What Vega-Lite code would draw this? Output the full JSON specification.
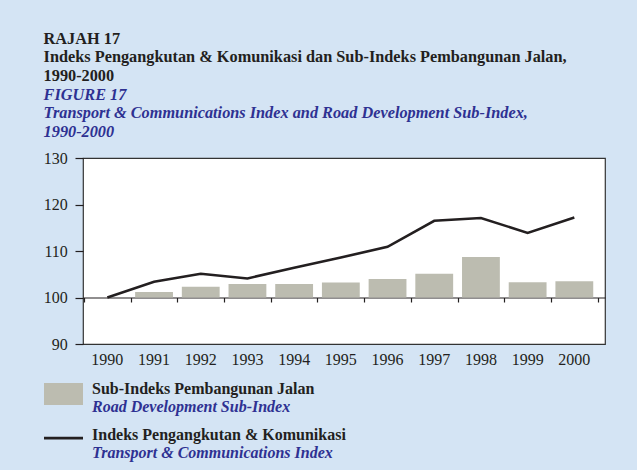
{
  "$schema": "https://vega.github.io/schema/vega-lite/v6.json",
  "background": "#d4e4f4",
  "padding": {"left": 38, "top": 30, "right": 32, "bottom": 7},
  "autosize": {"type": "pad"},
  "title": {
    "text": ["RAJAH 17", "Indeks Pengangkutan & Komunikasi dan Sub-Indeks Pembangunan Jalan,", "1990-2000"],
    "subtitle": ["FIGURE 17", "Transport & Communications Index and Road Development Sub-Index,", "1990-2000"],
    "anchor": "start",
    "frame": "bounds",
    "dx": 5,
    "font": "Liberation Serif",
    "fontSize": 16.3,
    "fontWeight": "bold",
    "color": "#231f20",
    "lineHeight": 18.7,
    "subtitleFont": "Liberation Serif",
    "subtitleFontSize": 16.3,
    "subtitleFontWeight": "bold",
    "subtitleFontStyle": "italic",
    "subtitleColor": "#2e3192",
    "subtitleLineHeight": 18.7,
    "subtitlePadding": 2.3,
    "offset": 9
  },
  "datasets": {
    "main": [
      {"year": "1990", "road": 100.0, "transport": 100.0},
      {"year": "1991", "road": 101.2, "transport": 103.4},
      {"year": "1992", "road": 102.3, "transport": 105.1},
      {"year": "1993", "road": 102.9, "transport": 104.1},
      {"year": "1994", "road": 102.9, "transport": 106.4},
      {"year": "1995", "road": 103.2, "transport": 108.6},
      {"year": "1996", "road": 104.0, "transport": 110.9},
      {"year": "1997", "road": 105.1, "transport": 116.5},
      {"year": "1998", "road": 108.7, "transport": 117.1},
      {"year": "1999", "road": 103.3, "transport": 113.9},
      {"year": "2000", "road": 103.5, "transport": 117.2}
    ],
    "legend": [
      {"kind": "bar", "my": "Sub-Indeks Pembangunan Jalan", "en": "Road Development Sub-Index"},
      {"kind": "line", "my": "Indeks Pengangkutan & Komunikasi", "en": "Transport & Communications Index"}
    ]
  },
  "spacing": 2,
  "vconcat": [
    {
      "width": 522,
      "height": 186,
      "view": {"fill": "white", "stroke": "#333333", "strokeWidth": 1.2},
      "data": {"name": "main"},
      "layer": [
        {
          "mark": {"type": "bar", "fill": "#bcbcb0", "width": {"band": 0.81}},
          "encoding": {
            "x": {
              "field": "year", "type": "ordinal",
              "scale": {"paddingInner": 0, "paddingOuter": 0.089, "align": 0.12},
              "axis": {"orient": "bottom", "title": null, "ticks": false, "tickSize": 0, "domain": false, "labelPadding": 7.5, "labelAngle": 0, "labelFont": "Liberation Serif", "labelFontSize": 16, "labelColor": "#231f20"}
            },
            "y": {
              "field": "road", "type": "quantitative",
              "scale": {"domain": [90, 130], "nice": false, "zero": false},
              "axis": {"title": null, "values": [90, 100, 110, 120, 130], "tickSize": 8, "tickWidth": 1.2, "tickColor": "#231f20", "labelPadding": 7.7, "domain": false, "grid": false, "labelFont": "Liberation Serif", "labelFontSize": 16, "labelColor": "#231f20"}
            },
            "y2": {"datum": 100}
          }
        },
        {
          "mark": {"type": "line", "stroke": "#231f20", "strokeWidth": 2.6},
          "encoding": {
            "x": {
              "field": "year", "type": "ordinal",
              "axis": {"orient": "bottom", "title": null, "labels": false, "domain": true, "domainColor": "#231f20", "domainWidth": 1.2, "ticks": true, "tickColor": "#231f20", "tickBand": "extent", "tickExtra": false, "tickSize": 4.5, "tickWidth": 1.2, "offset": -46.5}
            },
            "y": {"field": "transport", "type": "quantitative"}
          }
        }
      ],
      "resolve": {"axis": {"x": "independent"}}
    },
    {
      "width": 522,
      "height": 92,
      "view": {"stroke": null},
      "data": {"name": "legend"},
      "encoding": {
        "y": {"field": "kind", "type": "nominal", "scale": {"type": "point", "domain": ["bar", "line"], "padding": 0.5}, "axis": null}
      },
      "layer": [
        {
          "transform": [{"filter": "datum.kind == 'bar'"}],
          "mark": {"type": "point", "shape": "M-1,-0.564L1,-0.564L1,0.564L-1,0.564Z", "size": 1521, "filled": true, "fill": "#bcbcb0", "strokeWidth": 0, "opacity": 1},
          "encoding": {"x": {"value": -19.5}}
        },
        {
          "transform": [{"filter": "datum.kind == 'line'"}],
          "mark": {"type": "point", "shape": "M-1,-0.1L1,-0.1", "size": 1521, "filled": false, "stroke": "#231f20", "strokeWidth": 2.7, "opacity": 1},
          "encoding": {"x": {"value": -19.5}}
        },
        {
          "mark": {"type": "text", "align": "left", "baseline": "alphabetic", "font": "Liberation Serif", "fontSize": 16, "fontWeight": "bold", "color": "#231f20"},
          "encoding": {"x": {"value": 9}, "text": {"field": "my"}}
        },
        {
          "mark": {"type": "text", "align": "left", "baseline": "alphabetic", "dy": 18, "font": "Liberation Serif", "fontSize": 16, "fontWeight": "bold", "fontStyle": "italic", "color": "#2e3192"},
          "encoding": {"x": {"value": 9}, "text": {"field": "en"}}
        }
      ]
    }
  ],
  "config": {
    "font": "Liberation Serif",
    "style": {"guide-label": {"font": "Liberation Serif", "fontSize": 16}},
    "axis": {"labelFont": "Liberation Serif", "labelFontSize": 16, "labelColor": "#231f20", "tickColor": "#231f20", "grid": false}
  }
}
